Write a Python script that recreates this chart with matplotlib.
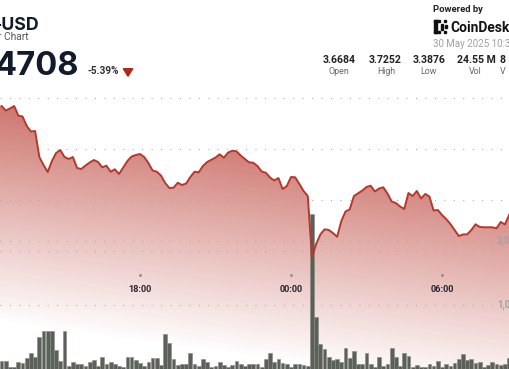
import numpy as np
import pandas as pd
import matplotlib
matplotlib.use("Agg")
import matplotlib.pyplot as plt
from matplotlib.patches import Polygon, Rectangle
import matplotlib.dates as mdates

plt.rcParams['font.family'] = ['Roboto', 'DejaVu Sans']

# 10 minute bars, SUI-USD
times = pd.date_range("2025-05-29 12:30", periods=122, freq="10min")
price = [3.6843, 3.6755, 3.6794, 3.6843, 3.6653, 3.6637, 3.6451, 3.6343, 3.6353, 3.5843,
         3.5686, 3.5549, 3.5765, 3.5922, 3.5980, 3.5843, 3.5804, 3.5843, 3.5627, 3.5608,
         3.5676, 3.5735, 3.5784, 3.5745, 3.5641, 3.5673, 3.5555, 3.5602, 3.5510, 3.5637,
         3.5765, 3.5853, 3.5882, 3.5902, 3.5843, 3.5725, 3.5578, 3.5555, 3.5480, 3.5333,
         3.5235, 3.5241, 3.5339, 3.5294, 3.5324, 3.5451, 3.5555, 3.5543, 3.5667, 3.5745,
         3.5788, 3.5833, 3.5896, 3.5829, 3.5931, 3.5967, 3.5955, 3.5873, 3.5804, 3.5739,
         3.5731, 3.5667, 3.5559, 3.5535, 3.5441, 3.5382, 3.5431, 3.5216, 3.5275, 3.5451,
         3.5445, 3.5314, 3.5176, 3.5078, 3.3876, 3.4137, 3.4324, 3.4425, 3.4412, 3.4353,
         3.4280, 3.4588, 3.4775, 3.4818, 3.5078, 3.5131, 3.5186, 3.5255, 3.5280, 3.5167,
         3.5225, 3.5249, 3.5127, 3.4971, 3.4941, 3.4873, 3.4824, 3.5137, 3.5078, 3.5176,
         3.5029, 3.5118, 3.5069, 3.4794, 3.4804, 3.4706, 3.4627, 3.4529, 3.4412, 3.4294,
         3.4324, 3.4327, 3.4412, 3.4524, 3.4471, 3.4465, 3.4465, 3.4465, 3.4445, 3.4569,
         3.4520, 3.4708]
volume = [130, 130, 27, 36, 105, 89, 167, 255, 192, 495,
          598, 598, 598, 297, 125, 598, 47, 105, 78, 78,
          47, 114, 141, 47, 192, 78, 114, 78, 47, 27,
          183, 183, 141, 89, 47, 114, 177, 177, 63, 542,
          411, 152, 63, 73, 78, 245, 73, 47, 156, 105,
          27, 47, 114, 63, 27, 63, 125, 78, 47, 73,
          78, 78, 27, 152, 255, 105, 156, 89, 73, 36,
          78, 73, 63, 47, 2422, 817, 386, 308, 183, 141,
          156, 105, 323, 177, 281, 78, 78, 245, 78, 27,
          183, 52, 78, 333, 183, 47, 255, 208, 27, 63,
          27, 27, 73, 47, 130, 27, 73, 47, 98, 156,
          230, 141, 156, 89, 114, 27, 63, 114, 73, 63,
          78, 167]
price_grid = [3.4, 3.5, 3.6, 3.7]
vol_grid = [1000, 2000]
vol_labels = ["1,000", "2,000"]
hour_ticks = pd.to_datetime(["2025-05-29 18:00", "2025-05-30 00:00", "2025-05-30 06:00"])
hour_labels = ["18:00", "00:00", "06:00"]
stat_values = ["3.6684", "3.7252", "3.3876", "24.55 M", "8"]
stat_names = ["Open", "High", "Low", "Vol", "V"]

W, H = 510, 369
fig = plt.figure(figsize=(W / 100, H / 100), dpi=100)
fig.patch.set_facecolor('white')

def fx(px):
    return px / W

def fy(py):
    return 1 - py / H

vax = fig.add_axes([0, 0, 1, 1])   # fill + volume bars
ax = fig.add_axes([0, 0, 1, 1])    # price line on top
ax.patch.set_visible(False)

midnight = pd.Timestamp("2025-05-30 00:00")
px_hour = 151 / 6
x_left = midnight - pd.Timedelta(hours=291 / px_hour)
x_right = midnight + pd.Timedelta(hours=(W - 291) / px_hour)
p_lo, p_hi = 3.5 - 169 / 510, 3.5 + 200 / 510
v_hi = H / 64 * 1000

xn = mdates.date2num(times)
xl, xr = mdates.date2num(x_left), mdates.date2num(x_right)

# gradient area under the price line
py_, px_ = np.mgrid[0:H, 0:W]
s = py_ - 0.14 * px_
alpha = np.clip((322 - s) / 222, 0, 1) * 0.7
grad = np.zeros((H, W, 4))
grad[..., 0] = 184 / 255
grad[..., 1] = 56 / 255
grad[..., 2] = 46 / 255
grad[..., 3] = alpha
im = vax.imshow(grad, extent=[0, 1, 0, 1], transform=vax.transAxes,
                aspect='auto', zorder=0, interpolation='bilinear')
verts = [(xl, price[0])] + list(zip(xn, price)) + [(xr, price[-1]), (xr, p_lo), (xl, p_lo)]
poly = Polygon(verts, closed=True, transform=ax.transData, facecolor='none', edgecolor='none')
vax.add_patch(poly)
im.set_clip_path(poly)

# dotted grid
for p in price_grid:
    vax.plot([0, 1], [fy(200 + (3.5 - p) * 510)] * 2, transform=vax.transAxes,
             color='#a8a8a8', lw=0.8, dashes=(0.9, 7.6), zorder=1)
for v in vol_grid:
    vax.axhline(v, color='#a8a8a8', lw=0.8, dashes=(0.9, 7.6), zorder=1)

vax.bar(xn, volume, width=10 / 1440 * 0.9, color='#5b6158', edgecolor='#858a82',
        linewidth=0.4, zorder=2)
for v, lab in zip(vol_grid, vol_labels):
    vax.text(fx(497), v, lab, transform=vax.get_yaxis_transform(), ha='left', va='center',
             fontsize=7, fontweight='bold', color='#a3a3a3')

ax.plot(times, price, color='#b5382c', lw=1.4, solid_joinstyle='round', zorder=3)

ax.plot(hour_ticks, [fy(275)] * 3, transform=ax.get_xaxis_transform(), ls='none',
        marker='s', ms=0.9, color='#8a8a8a')
for t, lab in zip(hour_ticks, hour_labels):
    ax.text(t, fy(292.3), lab, transform=ax.get_xaxis_transform(), ha='center',
            va='baseline', fontsize=6.6, fontweight='bold', color='#1f2633')

ax.set_xlim(x_left, x_right)
ax.set_ylim(p_lo, p_hi)
vax.set_xlim(xl, xr)
vax.set_ylim(0, v_hi)
ax.axis('off')
vax.axis('off')

# header
head = ['Inter', 'DejaVu Sans']
fig.text(fx(39.5), fy(29.5), "-USD", ha='right', va='baseline', fontsize=12.8,
         fontweight='bold', color='#111b2b', family=head)
fig.text(fx(28.5), fy(40.5), "r Chart", ha='right', va='baseline', fontsize=7.4,
         color='#555555')
fig.text(fx(78.5), fy(75), "4708", ha='right', va='baseline', fontsize=23.5,
         fontweight='bold', color='#111b2b', family=head)
fig.text(fx(88), fy(74.5), "-5.39%", ha='left', va='baseline', fontsize=7.2,
         fontweight='bold', color='#333333')
fig.add_artist(Polygon([(fx(123.3), fy(68.7)), (fx(132.7), fy(68.7)), (fx(128), fy(76.3))],
                       closed=True, transform=fig.transFigure, color='#b3261a'))

fig.text(fx(433), fy(12.5), "Powered by", ha='left', va='baseline', fontsize=6.8,
         fontweight='bold', color='#222222')
for (a, b, c, d) in [(434, 20, 436.6, 33), (434, 20, 440, 22.3), (434, 30.7, 440, 33),
                     (441, 24.5, 443, 26.5), (441, 27.5, 443, 29.5), (444.5, 20, 446.5, 22),
                     (444.5, 31, 446.5, 33), (445.5, 25.5, 447.5, 27.5)]:
    fig.add_artist(Rectangle((fx(a), fy(d)), fx(c) - fx(a), fy(b) - fy(d),
                             transform=fig.transFigure, color='#111111'))
fig.text(fx(450), fy(31.7), "CoinDesk", ha='left', va='baseline', fontsize=9.9,
         fontweight='bold', color='#111111')
fig.text(fx(433), fy(47.3), "30 May 2025 10:30", ha='left', va='baseline', fontsize=7,
         color='#a0a0a0')

for cx, val in zip([339, 385, 429.5, 476], stat_values[:4]):
    fig.text(fx(cx), fy(62.7), val, ha='center', va='baseline', fontsize=7.6,
             fontweight='bold', color='#222222')
fig.text(fx(499.3), fy(62.7), stat_values[4], ha='left', va='baseline', fontsize=7.6,
         fontweight='bold', color='#222222')
for cx, name in zip([339, 386, 428, 475], stat_names[:4]):
    fig.text(fx(cx), fy(74), name, ha='center', va='baseline', fontsize=6.4,
             color='#666666')
fig.text(fx(500), fy(74), stat_names[4], ha='left', va='baseline', fontsize=6.4,
         color='#666666')

fig.savefig("out.png", dpi=100)
